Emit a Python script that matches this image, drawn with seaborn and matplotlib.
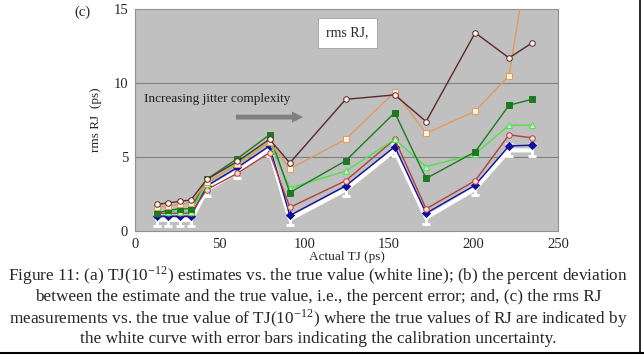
import numpy as np
import pandas as pd
import matplotlib
matplotlib.use('Agg')
import matplotlib.pyplot as plt
import seaborn as sns

# Data (c) panel
tj = [13, 19.5, 26.5, 33, 42.5, 60.5, 79.5, 91.5, 124.5, 153.5, 172, 201, 221, 234.5]
rj_true = [0.75, 0.75, 0.75, 0.75, 2.8, 4.0, 5.5, 0.8, 2.8, 5.45, 0.9, 2.85, 5.45, 5.45]
rj_true_err = [0.4, 0.4, 0.4, 0.4, 0.4, 0.4, 0.4, 0.4, 0.4, 0.4, 0.4, 0.4, 0.4, 0.4]
rj_blue = [1.0, 1.0, 1.0, 1.0, 3.05, 4.3, 5.75, 1.05, 3.05, 5.7, 1.2, 3.1, 5.75, 5.8]
rj_red = [1.2, 1.2, 1.2, 1.2, 2.8, 3.9, 5.3, 1.6, 3.4, 6.2, 1.5, 3.4, 6.5, 6.3]
rj_lgreen = [1.3, 1.3, 1.3, 1.3, 3.2, 4.6, 6.0, 2.9, 4.05, 6.2, 4.35, 5.2, 7.15, 7.15]
rj_dgreen = [1.2, 1.4, 1.5, 1.5, 3.5, 4.9, 6.5, 2.6, 4.75, 8.0, 3.55, 5.35, 8.5, 8.9]
rj_orange = [1.6, 1.7, 1.8, 1.9, 3.3, 4.5, 6.0, 4.2, 6.2, 9.4, 6.6, 8.1, 10.5, 20.0]
rj_brown = [1.8, 1.9, 2.0, 2.1, 3.5, 4.7, 6.2, 4.6, 8.9, 9.2, 7.4, 13.4, 11.7, 12.7]

caption = (
    "Figure 11: (a) TJ(10$^{\\mathregular{-12}}$) estimates vs. the true value (white line); (b) the percent deviation\n"
    "between the estimate and the true value, i.e., the percent error; and, (c) the rms RJ\n"
    "measurements vs. the true value of TJ(10$^{\\mathregular{-12}}$) where the true values of RJ are indicated by\n"
    "the white curve with error bars indicating the calibration uncertainty."
)

sns.set_style('white')
plt.rcParams['font.family'] = ['Liberation Serif', 'DejaVu Serif']
plt.rcParams['mathtext.fontset'] = 'stix'

fig = plt.figure(figsize=(6.44, 3.58), dpi=100)
ax = fig.add_axes([0.2096, 0.3547, 0.657, 0.620])
ax.set_facecolor('#c0c0c0')

# true values: thick white curve with error bars
ax.errorbar(tj, rj_true, yerr=rj_true_err, color='white', lw=3, capsize=3,
            elinewidth=2, capthick=2, zorder=2)

series = [
    (rj_blue, '#1010a0', 'D', '#1010a0'),
    (rj_red, '#b04040', 'o', '#ffd8d0'),
    (rj_lgreen, '#50e050', '^', '#c8ffc8'),
    (rj_dgreen, '#1e7a1e', 's', '#1e7a1e'),
    (rj_orange, '#e09a60', 's', '#fff0d8'),
    (rj_brown, '#5a2828', 'o', '#fff4f0'),
]
for vals, col, mk, face in series:
    sns.lineplot(x=tj, y=vals, color=col, marker=mk, markersize=4,
                 markerfacecolor=face, markeredgecolor=col, markeredgewidth=0.7,
                 lw=1.0, ax=ax, zorder=3)

ax.set_xlim(0, 250)
ax.set_ylim(0, 15)
ax.set_xticks([0, 50, 100, 150, 200, 250])
ax.set_yticks([0, 5, 10, 15])
for yv in [5, 10]:
    ax.axhline(yv, color='#808080', lw=0.8, zorder=1)
for s in ax.spines.values():
    s.set_color('#909090')
    s.set_linewidth(0.8)
ax.tick_params(axis='both', labelsize=10.5, length=3, width=0.6, color='#606060', pad=2)
ax.set_xlabel('Actual TJ (ps)', fontsize=9.5, labelpad=0)
ax.set_ylabel('rms RJ  (ps)', fontsize=9.5, labelpad=8)

ax.text(5.5, 8.9, 'Increasing jitter complexity', fontsize=9.5, color='#202020',
        va='center', ha='left')
ax.annotate('', xy=(101, 7.7), xytext=(58, 7.7),
            arrowprops=dict(arrowstyle='simple,head_length=0.8,head_width=0.8,tail_width=0.35',
                            color='#808080', lw=0))
ax.text(113, 13.4, 'rms RJ,', fontsize=10, va='center', ha='left',
        bbox=dict(facecolor='white', edgecolor='#a0a0a0', lw=0.6, pad=6))

fig.text(0.115, 0.965, '(c)', fontsize=10.5, va='center', ha='left')
fig.text(0.494, 0.145, caption, fontsize=12.4, ha='center', va='center',
         linespacing=1.13)

# page frame lines seen at bottom and right edge
fig.add_artist(plt.Line2D([0, 1], [0.014, 0.014], color='black', lw=1.5,
                          transform=fig.transFigure))
fig.add_artist(plt.Line2D([0.994, 0.994], [0.014, 1], color='black', lw=1.2,
                          transform=fig.transFigure))

fig.savefig('out.png', dpi=100)
